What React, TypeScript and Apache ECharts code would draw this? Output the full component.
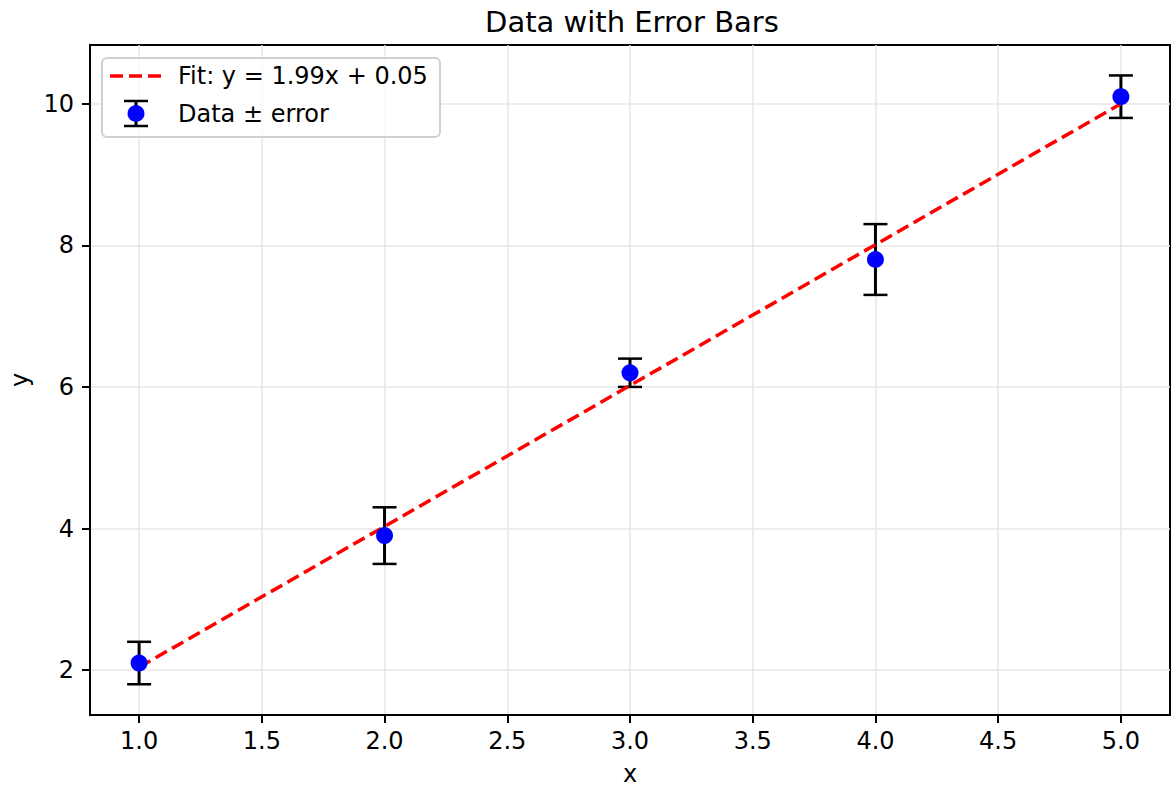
import React, { useEffect, useRef } from "react";
import * as echarts from "echarts";

const xValues = [1, 2, 3, 4, 5];
const yValues = [2.1, 3.9, 6.2, 7.8, 10.1];
const yErrors = [0.3, 0.4, 0.2, 0.5, 0.3];
const fitSlope = 1.99;
const fitIntercept = 0.05;
const xTicks = [1.0, 1.5, 2.0, 2.5, 3.0, 3.5, 4.0, 4.5, 5.0];
const yTicks = [2, 4, 6, 8, 10];
const titleText = "Data with Error Bars";
const fitLabel = "Fit: y = 1.99x + 0.05";
const dataLabel = "Data ± error";

const FONT = "DejaVu Sans";

export default function App() {
  const ref = useRef<HTMLDivElement>(null);
  useEffect(() => {
    if (!ref.current) return;
    const chart = echarts.init(ref.current, null, { renderer: "svg" });
    const errData = xValues.map((x, i) => [x, yValues[i] - yErrors[i], yValues[i] + yErrors[i]]);
    const fitX = [xValues[0], xValues[xValues.length - 1]];
    const fitData = fitX.map((x) => [x, fitSlope * x + fitIntercept]);
    const ptData = xValues.map((x, i) => [x, yValues[i]]);

    const legendRow1 = 76;
    const legendRow2 = 113.5;
    const iconCx = 136;

    chart.setOption({
      animation: false,
      backgroundColor: "#ffffff",
      title: {
        text: titleText,
        left: 627,
        textAlign: "center",
        top: 2,
        textStyle: { fontFamily: FONT, fontSize: 29, fontWeight: "normal", color: "#000" },
      },
      grid: {
        left: 90,
        top: 45,
        right: 4,
        bottom: 68,
        show: true,
        borderColor: "#000",
        borderWidth: 2,
        backgroundColor: "transparent",
      },
      xAxis: {
        type: "value",
        min: 0.8,
        max: 5.2,
        name: "x",
        nameLocation: "middle",
        nameGap: 47,
        nameTextStyle: { fontFamily: FONT, fontSize: 24, color: "#000" },
        axisLine: { show: true, onZero: false, lineStyle: { color: "#000", width: 2 } },
        axisTick: { show: true, customValues: xTicks, length: 8, lineStyle: { color: "#000", width: 2 } },
        axisLabel: {
          customValues: xTicks,
          margin: 14,
          fontFamily: FONT,
          fontSize: 24,
          color: "#000",
          formatter: (v: number) => v.toFixed(1),
        },
        splitLine: { show: true, lineStyle: { color: "#e6e6e6", width: 1.5 } },
      },
      yAxis: {
        type: "value",
        min: 1.366,
        max: 10.83,
        name: "y",
        nameLocation: "middle",
        nameGap: 58,
        nameRotate: 90,
        nameTextStyle: { fontFamily: FONT, fontSize: 24, color: "#000" },
        axisLine: { show: true, onZero: false, lineStyle: { color: "#000", width: 2 } },
        axisTick: { show: true, customValues: yTicks, length: 8, lineStyle: { color: "#000", width: 2 } },
        axisLabel: {
          customValues: yTicks,
          margin: 16,
          fontFamily: FONT,
          fontSize: 24,
          color: "#000",
          formatter: (v: number) => String(v),
        },
        splitLine: { show: true, lineStyle: { color: "#e6e6e6", width: 1.5 } },
      },
      series: [
        {
          type: "custom",
          name: "errorbars",
          z: 2,
          data: errData,
          renderItem: (params: any, api: any) => {
            const x = api.value(0);
            const lo = api.coord([x, api.value(1)]);
            const hi = api.coord([x, api.value(2)]);
            const half = 12;
            const style = { stroke: "#000", lineWidth: 3 };
            return {
              type: "group",
              children: [
                { type: "line", shape: { x1: lo[0], y1: lo[1], x2: hi[0], y2: hi[1] }, style },
                { type: "line", shape: { x1: lo[0] - half, y1: lo[1], x2: lo[0] + half, y2: lo[1] }, style: { stroke: "#000", lineWidth: 2.5 } },
                { type: "line", shape: { x1: hi[0] - half, y1: hi[1], x2: hi[0] + half, y2: hi[1] }, style: { stroke: "#000", lineWidth: 2.5 } },
              ],
            };
          },
        },
        {
          type: "line",
          name: fitLabel,
          z: 3,
          data: fitData,
          showSymbol: false,
          symbol: "none",
          lineStyle: { color: "#ff0000", width: 3.5, type: [13, 6] },
        },
        {
          type: "scatter",
          name: dataLabel,
          z: 4,
          data: ptData,
          symbol: "circle",
          symbolSize: 17,
          itemStyle: { color: "#0000ff", opacity: 1 },
        },
      ],
      graphic: [
        {
          type: "rect",
          z: 100,
          shape: { x: 102, y: 58, width: 338, height: 79, r: 5 },
          style: { fill: "rgba(255,255,255,0.8)", stroke: "#d0d0d0", lineWidth: 2 },
        },
        {
          type: "line",
          z: 101,
          shape: { x1: 110, y1: legendRow1, x2: 161, y2: legendRow1 },
          style: { stroke: "#ff0000", lineWidth: 3.5, lineDash: [13, 6] },
        },
        {
          type: "text",
          z: 101,
          x: 178,
          y: legendRow1,
          style: { text: fitLabel, fontFamily: FONT, fontSize: 24, fill: "#000", verticalAlign: "middle", align: "left" },
        },
        {
          type: "line",
          z: 101,
          shape: { x1: iconCx, y1: legendRow2 - 12.5, x2: iconCx, y2: legendRow2 + 12.5 },
          style: { stroke: "#000", lineWidth: 3 },
        },
        {
          type: "line",
          z: 101,
          shape: { x1: iconCx - 12, y1: legendRow2 - 12.5, x2: iconCx + 12, y2: legendRow2 - 12.5 },
          style: { stroke: "#000", lineWidth: 2.5 },
        },
        {
          type: "line",
          z: 101,
          shape: { x1: iconCx - 12, y1: legendRow2 + 12.5, x2: iconCx + 12, y2: legendRow2 + 12.5 },
          style: { stroke: "#000", lineWidth: 2.5 },
        },
        {
          type: "circle",
          z: 102,
          shape: { cx: iconCx, cy: legendRow2, r: 8.5 },
          style: { fill: "#0000ff" },
        },
        {
          type: "text",
          z: 101,
          x: 178,
          y: legendRow2,
          style: { text: dataLabel, fontFamily: FONT, fontSize: 24, fill: "#000", verticalAlign: "middle", align: "left" },
        },
      ],
    });
    return () => chart.dispose();
  }, []);
  return (
    <div
      ref={ref}
      style={{ position: "fixed", left: 0, top: 0, width: 1174, height: 791, background: "#fff" }}
    />
  );
}
